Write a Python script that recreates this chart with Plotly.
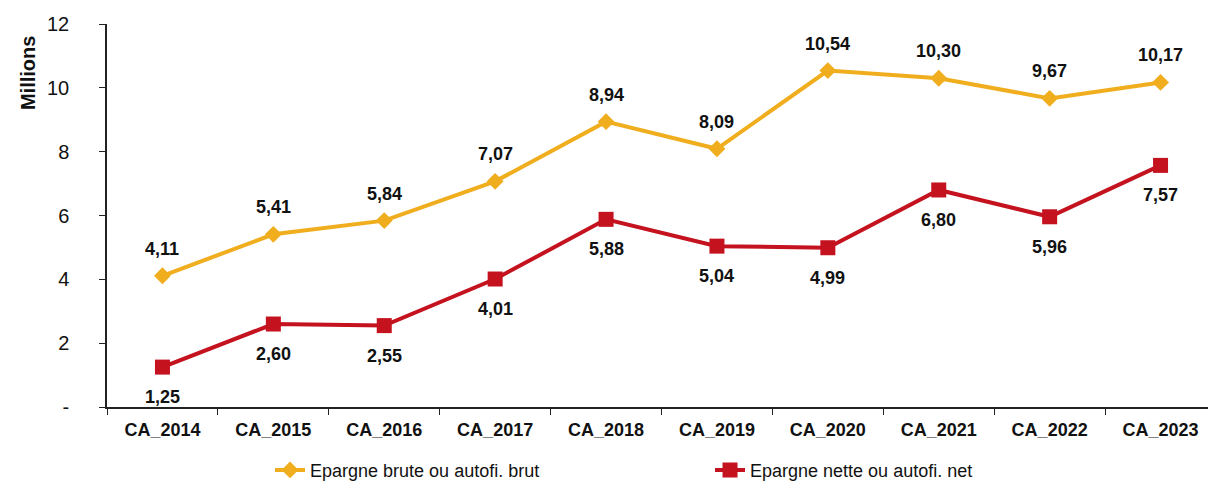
import plotly.graph_objects as go

categories = ["CA_2014", "CA_2015", "CA_2016", "CA_2017", "CA_2018",
              "CA_2019", "CA_2020", "CA_2021", "CA_2022", "CA_2023"]
brute = [4.11, 5.41, 5.84, 7.07, 8.94, 8.09, 10.54, 10.30, 9.67, 10.17]
nette = [1.25, 2.60, 2.55, 4.01, 5.88, 5.04, 4.99, 6.80, 5.96, 7.57]
y_tickvals = [0, 2, 4, 6, 8, 10, 12]
y_ticktext = ["-", "2", "4", "6", "8", "10", "12"]

def fmt(v):
    return f"{v:.2f}".replace(".", ",")

FONT = "Liberation Sans, Arial, sans-serif"
ORANGE = "#F0AE1E"
RED = "#C4121F"

fig = go.Figure()
fig.add_trace(go.Scatter(
    x=categories, y=brute, mode="lines+markers",
    name="Epargne brute ou autofi. brut",
    line=dict(color=ORANGE, width=4),
    marker=dict(symbol="diamond", size=13, color=ORANGE),
    cliponaxis=False,
))
fig.add_trace(go.Scatter(
    x=categories, y=nette, mode="lines+markers",
    name="Epargne nette ou autofi. net",
    line=dict(color=RED, width=4),
    marker=dict(symbol="square", size=15, color=RED),
    cliponaxis=False,
))

for c, v in zip(categories, brute):
    fig.add_annotation(x=c, y=v, text=f"<b>{fmt(v)}</b>", showarrow=False,
                       yshift=27, font=dict(family=FONT, size=18, color="#111111"))
for c, v in zip(categories, nette):
    fig.add_annotation(x=c, y=v, text=f"<b>{fmt(v)}</b>", showarrow=False,
                       yshift=-30, font=dict(family=FONT, size=18, color="#111111"))

fig.add_annotation(
    text="<b>Millions</b>", textangle=-90,
    xref="paper", yref="paper", x=-0.0712, y=0.872,
    xanchor="center", yanchor="middle", showarrow=False,
    font=dict(family=FONT, size=20, color="#111111"),
)

fig.update_layout(
    width=1208, height=473,
    margin=dict(l=99, r=0, t=16, b=74, autoexpand=False),
    paper_bgcolor="white", plot_bgcolor="white",
    font=dict(family=FONT, color="#111111"),
    showlegend=True,
    legend=dict(orientation="h", x=0.147, xanchor="left", y=-0.165, yanchor="middle",
                font=dict(family=FONT, size=18, color="#111111"),
                entrywidth=395, entrywidthmode="pixels", tracegroupgap=0),
    xaxis=dict(
        type="category", showgrid=False, showline=True, linecolor="#222222", linewidth=1.5,
        ticks="outside", tickson="boundaries", ticklen=6, tickcolor="#222222",
        tickfont=dict(family=FONT, size=18, color="#111111", weight="bold"),
        ticklabelstandoff=6, automargin=False,
        range=[-0.5, 9.5],
    ),
    yaxis=dict(
        range=[0, 12], tickvals=y_tickvals, ticktext=y_ticktext,
        showgrid=False, showline=True, linecolor="#222222", linewidth=1.5,
        ticks="outside", ticklen=6, tickcolor="#222222",
        tickfont=dict(family=FONT, size=20, color="#111111"),
        ticklabelstandoff=26, automargin=False,
        zeroline=False,
    ),
)

fig.write_html("out.html")
